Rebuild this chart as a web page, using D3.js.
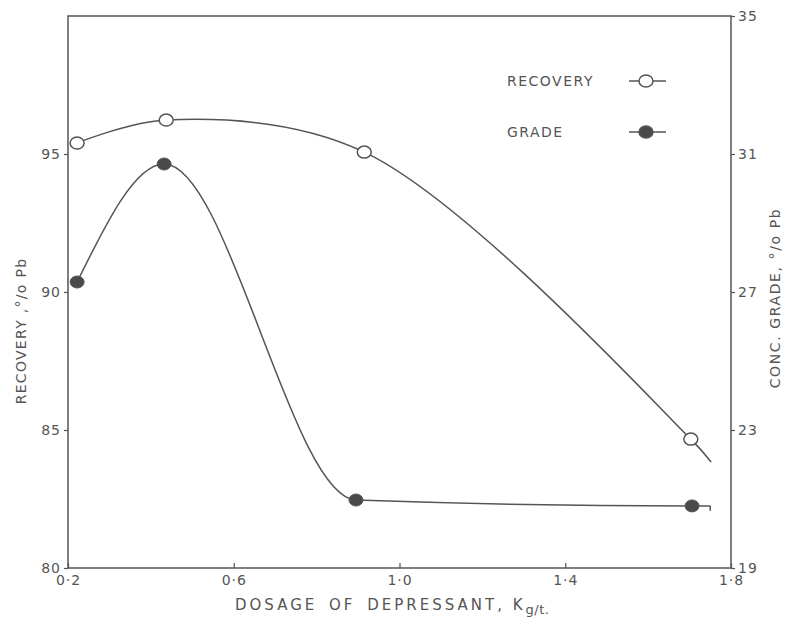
<!DOCTYPE html>
<html>
<head>
<meta charset="utf-8">
<script src="https://cdn.jsdelivr.net/npm/d3@7"></script>
<style>
  body { margin: 0; background: #fff; }
  text { font-family: "DejaVu Sans", sans-serif; fill: #555; }
</style>
</head>
<body>
<svg id="chart" width="794" height="618"></svg>
<script>
// values
var dosage = [0.222, 0.437, 0.915, 1.703];
var recovery = [95.4, 96.23, 95.07, 84.67];
var dosageG = [0.222, 0.432, 0.895, 1.706];
var grade = [27.29, 30.71, 20.97, 20.8];
// where the hand-drawn curves stop past the last point
var recoveryTail = [1.752, 83.84];
var gradeTail = [1.75, 20.8];

var xTicks = [0.2, 0.6, 1.0, 1.4, 1.8];
var leftTicks = [80, 85, 90, 95];
var rightTicks = [19, 23, 27, 31, 35];

var svg = d3.select("#chart"),
  margin = { top: 16, right: 63, bottom: 50, left: 68 },
  width = +svg.attr("width") - margin.left - margin.right,
  height = +svg.attr("height") - margin.top - margin.bottom,
  g = svg.append("g")
    .attr("transform", "translate(" + margin.left + "," + margin.top + ")");

var ink = "#555";

var x = d3.scaleLinear().domain([0.2, 1.8]).range([0, width]);
var yL = d3.scaleLinear().domain([80, 100]).range([height, 0]);
var yR = d3.scaleLinear().domain([19, 35]).range([height, 0]);

// frame
g.append("rect")
  .attr("width", width)
  .attr("height", height)
  .attr("fill", "none")
  .attr("stroke", ink)
  .attr("stroke-width", 1.5);

function styleAxis(sel) {
  sel.select(".domain").remove();
  sel.selectAll(".tick line").attr("stroke", ink).attr("stroke-width", 1.2);
  sel.selectAll(".tick text")
    .attr("fill", ink)
    .style("font-size", "14px")
    .style("letter-spacing", "1px");
}

g.append("g")
  .call(d3.axisLeft(yL).tickValues(leftTicks).tickSize(4).tickPadding(3)
    .tickFormat(d3.format("d")))
  .call(styleAxis);

g.append("g")
  .attr("transform", "translate(" + width + ",0)")
  .call(d3.axisRight(yR).tickValues(rightTicks).tickSize(4).tickPadding(3)
    .tickFormat(d3.format("d")))
  .call(styleAxis);

g.append("g")
  .attr("transform", "translate(0," + height + ")")
  .call(d3.axisBottom(x).tickValues(xTicks).tickSizeInner(-5).tickSizeOuter(0)
    .tickPadding(7)
    .tickFormat(function(d) { return d3.format(".1f")(d).replace(".", "\u00b7"); }))
  .call(styleAxis);

// axis titles
svg.append("text")
  .attr("transform", "translate(21," + 331 + ") rotate(-90)")
  .attr("text-anchor", "middle")
  .attr("dy", "0.35em")
  .style("font-size", "14px")
  .style("letter-spacing", "1.3px")
  .text("RECOVERY ,\u00b0/o Pb");

svg.append("text")
  .attr("transform", "translate(775," + 298 + ") rotate(-90)")
  .attr("text-anchor", "middle")
  .attr("dy", "0.35em")
  .style("font-size", "14px")
  .style("letter-spacing", "1.6px")
  .text("CONC. GRADE, \u00b0/o Pb");

var xt = svg.append("text")
  .attr("x", 235)
  .attr("y", 610)
  .style("font-size", "15px")
  .style("letter-spacing", "3px")
  .style("word-spacing", "4px");
xt.append("tspan").text("DOSAGE OF DEPRESSANT");
xt.append("tspan").style("word-spacing", "0px").text(", K");
xt.append("tspan").attr("dy", 4).style("font-size", "13px").style("letter-spacing", "0.5px").text("g/t.");

// curves
var recPts = dosage.map(function(d, i) { return [d, recovery[i]]; });
var grPts = dosageG.map(function(d, i) { return [d, grade[i]]; });

var recLine = d3.line()
  .x(function(d) { return x(d[0]); })
  .y(function(d) { return yL(d[1]); })
  .curve(d3.curveCatmullRom.alpha(0.5));

var grLine = d3.line()
  .x(function(d) { return x(d[0]); })
  .y(function(d) { return yR(d[1]); })
  .curve(d3.curveMonotoneX);

g.append("path")
  .datum(recPts.concat([recoveryTail]))
  .attr("fill", "none")
  .attr("stroke", ink)
  .attr("stroke-width", 1.5)
  .attr("d", recLine);

g.append("path")
  .datum(grPts.concat([gradeTail]))
  .attr("fill", "none")
  .attr("stroke", ink)
  .attr("stroke-width", 1.5)
  .attr("d", grLine);

// small hook at the end of the grade line
g.append("path")
  .attr("fill", "none")
  .attr("stroke", ink)
  .attr("stroke-width", 1.5)
  .attr("d", "M" + x(gradeTail[0]) + "," + yR(gradeTail[1]) + "v5");

g.selectAll(".rec")
  .data(recPts)
  .enter()
  .append("ellipse")
  .attr("class", "rec")
  .attr("cx", function(d) { return x(d[0]); })
  .attr("cy", function(d) { return yL(d[1]); })
  .attr("rx", 7)
  .attr("ry", 6)
  .attr("fill", "#fff")
  .attr("stroke", ink)
  .attr("stroke-width", 1.5);

g.selectAll(".gr")
  .data(grPts)
  .enter()
  .append("ellipse")
  .attr("class", "gr")
  .attr("cx", function(d) { return x(d[0]); })
  .attr("cy", function(d) { return yR(d[1]); })
  .attr("rx", 7)
  .attr("ry", 6)
  .attr("fill", "#4a4a4a")
  .attr("stroke", ink);

// legend
var legend = [
  { label: "RECOVERY", fill: "#fff", y: 81 },
  { label: "GRADE", fill: "#4a4a4a", y: 132 }
];
var lg = svg.append("g");
legend.forEach(function(l) {
  lg.append("text")
    .attr("x", 507)
    .attr("y", l.y)
    .attr("dy", "0.35em")
    .style("font-size", "14px")
    .style("letter-spacing", "1.5px")
    .text(l.label);
  lg.append("line")
    .attr("x1", 629).attr("x2", 666)
    .attr("y1", l.y).attr("y2", l.y)
    .attr("stroke", ink).attr("stroke-width", 1.5);
  lg.append("ellipse")
    .attr("cx", 646).attr("cy", l.y)
    .attr("rx", 7).attr("ry", 6)
    .attr("fill", l.fill)
    .attr("stroke", ink).attr("stroke-width", 1.5);
});
</script>
</body>
</html>
